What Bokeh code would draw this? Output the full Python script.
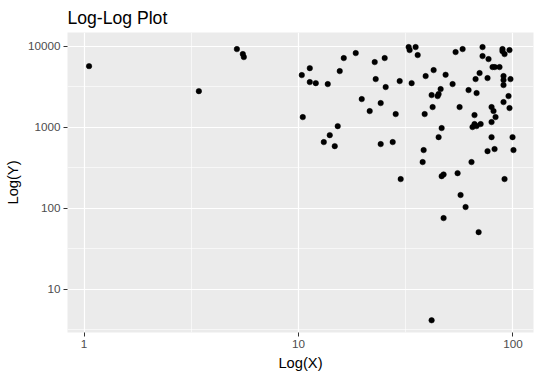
from bokeh.plotting import figure
from bokeh.models import Range1d, FixedTicker, PrintfTickFormatter, ColumnDataSource
from bokeh.embed import file_html
from bokeh.resources import INLINE

# ---- data ----
x_values = [1.055, 3.43, 5.16, 5.50, 5.56,
            10.36, 11.29, 11.29, 12.04, 13.69, 10.47, 16.26, 18.49, 15.57, 15.24,
            13.99, 13.12, 14.76, 22.67, 25.23, 22.91, 25.50, 19.72, 24.17, 21.48,
            28.40, 29.64, 24.17, 27.50, 32.64, 32.98, 35.17, 35.96, 33.70, 39.17,
            42.68, 48.54, 52.32, 46.01, 45.03, 44.55, 41.77, 42.22, 38.76, 46.51,
            45.03, 54.03, 58.26, 72.17, 72.17, 76.95, 80.35, 82.3, 86.6, 89.4,
            89.4, 91.4, 96.4, 69.9, 66.96, 76.14, 90.4, 90.4, 90.4, 97.4,
            62.1, 67.7, 56.4, 95.4, 90.4, 96.4, 79.5, 81.2, 66.2, 82.98,
            79.5, 64.8, 66.2, 67.7, 70.7, 79.5, 99.6, 38.34, 37.93, 64.1,
            76.14, 82.1, 100.6, 29.96, 46.51, 47.5, 55.2, 91.4, 57.0, 60.15,
            47.5, 69.2, 41.77]
y_values = [5660, 2780, 9180, 7965, 7315,
            4385, 5345, 3594, 3491, 3396, 1328, 7114, 8197, 4912, 1028,
            796, 653, 582, 6346, 7114, 3913, 3119, 2217, 1978, 1576,
            1447, 3698, 617, 653, 9720, 8925, 9720, 7743, 3491, 4263,
            5054, 4424, 3396, 2944, 2555, 2413, 2483, 1766, 1447, 972,
            752, 8437, 9180, 9720, 7523, 6910, 5505, 5505, 5505, 9180,
            8670, 7965, 8925, 4642, 3913, 4027, 4263, 3802, 3300, 3913,
            2863, 2630, 1766, 2413, 2035, 1717, 1766, 1576, 1406, 1329,
            1153, 1000, 1089, 1029, 1089, 752, 752, 520, 370, 370,
            505, 535, 520, 228, 248, 260, 270, 228, 145, 103,
            75.2, 50.5, 4.12]

x_ticks = [1, 10, 100]
y_ticks = [10, 100, 1000, 10000]
x_minor = [10 ** -0.5, 10 ** 0.5, 10 ** 1.5, 10 ** 2.5]
y_minor = [10 ** 0.5, 10 ** 1.5, 10 ** 2.5, 10 ** 3.5]

title_text = "Log-Log Plot"
x_title = "Log(X)"
y_title = "Log(Y)"

FONT = "Liberation Sans"

p = figure(width=542, height=377, x_axis_type="log", y_axis_type="log",
           output_backend="svg", toolbar_location=None,
           x_range=Range1d(10 ** -0.0773, 10 ** 2.096),
           y_range=Range1d(10 ** 0.464, 10 ** 4.168),
           min_border_left=67, min_border_right=9,
           min_border_top=32, min_border_bottom=45)

p.background_fill_color = "#EBEBEB"
p.border_fill_color = "white"
p.outline_line_color = None

p.title.text = title_text
p.title.text_font = FONT
p.title.text_font_size = "17.6px"
p.title.text_font_style = "normal"
p.title.text_color = "black"
p.title.align = "left"

p.xaxis.ticker = FixedTicker(ticks=x_ticks, minor_ticks=x_minor)
p.yaxis.ticker = FixedTicker(ticks=y_ticks, minor_ticks=y_minor)
p.xaxis.formatter = PrintfTickFormatter(format="%d")
p.yaxis.formatter = PrintfTickFormatter(format="%d")

for ax in (p.xaxis, p.yaxis):
    ax.axis_line_color = None
    ax.major_tick_line_color = "#333333"
    ax.major_tick_line_width = 1
    ax.major_tick_out = 4
    ax.major_tick_in = 0
    ax.minor_tick_line_color = None
    ax.major_label_text_font = FONT
    ax.major_label_text_font_size = "11.7px"
    ax.major_label_text_color = "#4D4D4D"
    ax.major_label_standoff = 3
    ax.axis_label_text_font = FONT
    ax.axis_label_text_font_size = "14.7px"
    ax.axis_label_text_font_style = "normal"
    ax.axis_label_text_color = "black"
    ax.axis_label_standoff = 4

p.xaxis.axis_label = x_title
p.yaxis.axis_label = y_title

for g in (p.xgrid, p.ygrid):
    g.grid_line_color = "white"
    g.grid_line_width = 1.2
    g.minor_grid_line_color = "white"
    g.minor_grid_line_width = 0.6

src = ColumnDataSource(data=dict(x=x_values, y=y_values))
p.scatter("x", "y", source=src, size=5.5, fill_color="black", line_color="black",
          line_width=0.5)

open("out.html", "w").write(file_html(p, INLINE))
